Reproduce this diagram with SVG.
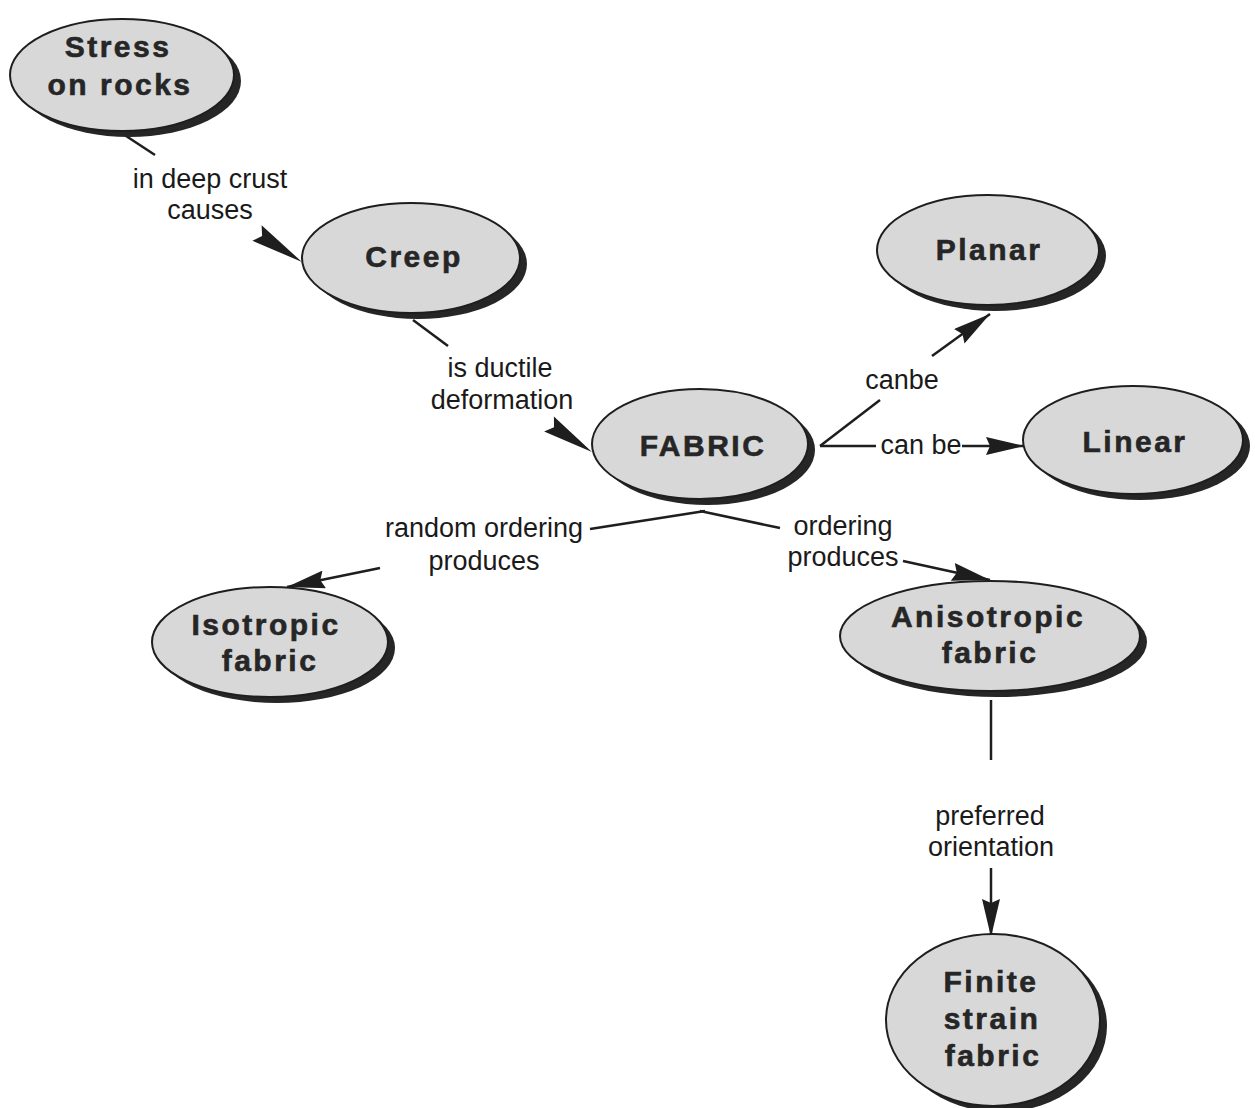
<svg xmlns="http://www.w3.org/2000/svg" width="1255" height="1108" viewBox="0 0 1255 1108">
  <style>
    .shadow { fill: #262626; }
    .body { fill: #d8d8d8; stroke: #1e1e1e; stroke-width: 2; }
    .name { font-family: "Liberation Sans", Arial, sans-serif; font-weight: bold; font-size: 30px; letter-spacing: 2.5px; fill: #262626; stroke: #262626; stroke-width: 0.6; text-anchor: middle; }
    .link { stroke: #1e1e1e; stroke-width: 2.5; fill: none; }
    .head { fill: #1e1e1e; }
    .lbl { font-family: "Liberation Sans", Arial, sans-serif; font-size: 27px; fill: #1a1a1a; text-anchor: middle; }
  </style>
  <defs>
    <marker id="arrow" markerUnits="userSpaceOnUse" viewBox="0 0 38 18" markerWidth="38" markerHeight="18" refX="38" refY="9" orient="auto">
      <path d="M0,0 L38,9 L0,18 L4,9 Z" fill="#1e1e1e"/>
    </marker>
  </defs>
  <rect width="1255" height="1108" fill="#ffffff"/>

  <!-- connectors -->
  <g id="connectors">
    <line class="link" x1="120" y1="132" x2="155" y2="155"/>
    <path class="head" d="M302,262 L261.6,225.3 L262.1,236.1 L252.4,240.7 Z"/>
    <line class="link" x1="413" y1="320" x2="448" y2="346"/>
    <path class="head" d="M592,452 L553.9,416.4 L554,427.2 L544.1,431.6 Z"/>
    <line class="link" x1="820" y1="446" x2="880" y2="400"/>
    <line class="link" x1="932" y1="356" x2="990" y2="314" marker-end="url(#arrow)"/>
    <line class="link" x1="820" y1="446" x2="876" y2="446"/>
    <line class="link" x1="962" y1="446" x2="1024" y2="446" marker-end="url(#arrow)"/>
    <line class="link" x1="705" y1="511" x2="590" y2="529"/>
    <line class="link" x1="380" y1="568" x2="287" y2="587" marker-end="url(#arrow)"/>
    <line class="link" x1="700" y1="511" x2="780" y2="528"/>
    <line class="link" x1="903" y1="561" x2="990" y2="580" marker-end="url(#arrow)"/>
    <line class="link" x1="991" y1="700" x2="991" y2="760"/>
    <line class="link" x1="991" y1="868" x2="991" y2="937" marker-end="url(#arrow)"/>

    <text class="lbl" x="210" y="188">in deep crust</text>
    <text class="lbl" x="210" y="219">causes</text>
    <text class="lbl" x="500" y="377">is ductile</text>
    <text class="lbl" x="502" y="409">deformation</text>
    <text class="lbl" x="902" y="389">canbe</text>
    <text class="lbl" x="921" y="454">can be</text>
    <text class="lbl" x="484" y="537">random ordering</text>
    <text class="lbl" x="484" y="570">produces</text>
    <text class="lbl" x="843" y="535">ordering</text>
    <text class="lbl" x="843" y="566">produces</text>
    <text class="lbl" x="990" y="825">preferred</text>
    <text class="lbl" x="991" y="856">orientation</text>
  </g>

  <!-- concept nodes -->
  <g id="node-stress">
    <ellipse class="shadow" cx="129" cy="81" rx="112" ry="56"/>
    <ellipse class="body" cx="122" cy="75" rx="112" ry="56"/>
    <text class="name" x="118" y="57">Stress</text>
    <text class="name" x="120" y="95">on  rocks</text>
  </g>
  <g id="node-creep">
    <ellipse class="shadow" cx="418" cy="264" rx="109" ry="55"/>
    <ellipse class="body" cx="411" cy="258" rx="109" ry="55"/>
    <text class="name" x="414" y="267">Creep</text>
  </g>
  <g id="node-fabric">
    <ellipse class="shadow" cx="707" cy="450" rx="108" ry="55"/>
    <ellipse class="body" cx="700" cy="444" rx="108" ry="55"/>
    <text class="name" x="703" y="456">FABRIC</text>
  </g>
  <g id="node-planar">
    <ellipse class="shadow" cx="995" cy="256" rx="111" ry="55"/>
    <ellipse class="body" cx="988" cy="250" rx="111" ry="55"/>
    <text class="name" x="989" y="260">Planar</text>
  </g>
  <g id="node-linear">
    <ellipse class="shadow" cx="1140" cy="446" rx="110" ry="54"/>
    <ellipse class="body" cx="1133" cy="440" rx="110" ry="54"/>
    <text class="name" x="1135" y="452">Linear</text>
  </g>
  <g id="node-isotropic">
    <ellipse class="shadow" cx="277" cy="648" rx="118" ry="55"/>
    <ellipse class="body" cx="270" cy="642" rx="118" ry="55"/>
    <text class="name" x="266" y="635">Isotropic</text>
    <text class="name" x="270" y="671">fabric</text>
  </g>
  <g id="node-anisotropic">
    <ellipse class="shadow" cx="997" cy="642" rx="150" ry="55"/>
    <ellipse class="body" cx="990" cy="636" rx="150" ry="55"/>
    <text class="name" x="988" y="627">Anisotropic</text>
    <text class="name" x="990" y="663">fabric</text>
  </g>
  <g id="node-finite">
    <ellipse class="shadow" cx="1000" cy="1026" rx="107" ry="86"/>
    <ellipse class="body" cx="993" cy="1020" rx="107" ry="86"/>
    <text class="name" x="991" y="992">Finite</text>
    <text class="name" x="992" y="1029">strain</text>
    <text class="name" x="993" y="1066">fabric</text>
  </g>
</svg>
